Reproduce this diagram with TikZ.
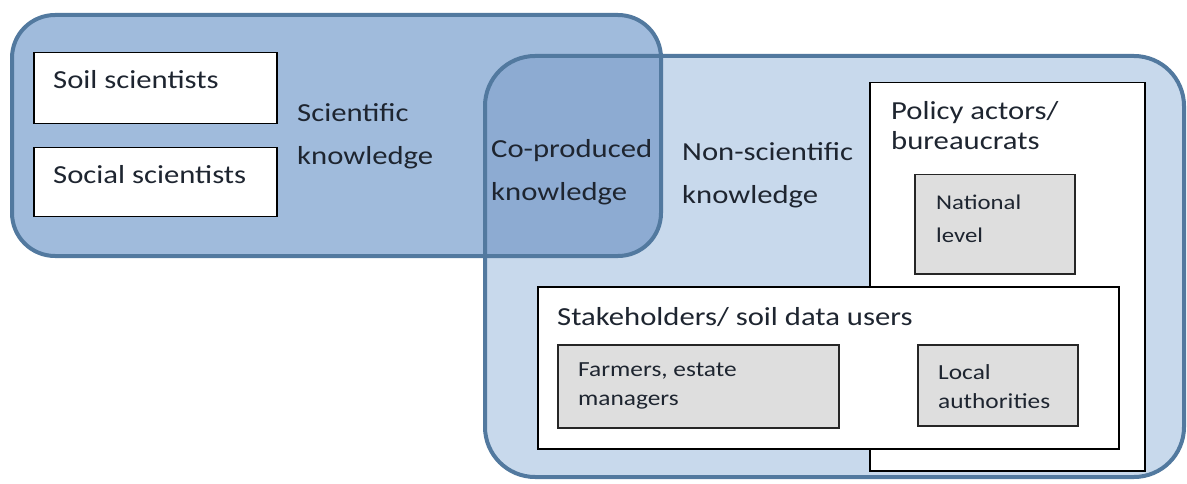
\documentclass[tikz,border=0pt]{standalone}
\usepackage{fontspec}
\setmainfont[FakeStretch=1.18]{Carlito}
\definecolor{leftfill}{HTML}{A0BBDC}
\definecolor{rightfill}{HTML}{C8D9EC}
\definecolor{overlapfill}{HTML}{8DABD2}
\definecolor{bordercol}{HTML}{52799F}
\definecolor{greybox}{HTML}{DEDEDE}
\definecolor{txt}{HTML}{1E2530}
\tikzset{
  bigregion/.style={draw=bordercol, line width=4pt},
  whitebox/.style={draw=black, fill=white, line width=1.5pt, rectangle, inner sep=0pt},
  greyinner/.style={draw=black!85, fill=greybox, line width=1.5pt, rectangle, inner sep=0pt},
  bigtxt/.style={font=\fontsize{26}{43}\selectfont, text=txt, align=left, anchor=west, inner sep=0pt},
  midtxt/.style={font=\fontsize{26}{30}\selectfont, text=txt, align=left, anchor=west, inner sep=0pt},
  smalltxt/.style={font=\fontsize{21.5}{29}\selectfont, text=txt, align=left, anchor=west, inner sep=0pt},
  nattxt/.style={font=\fontsize{21}{33}\selectfont, text=txt, align=left, anchor=west, inner sep=0pt},
}
\begin{document}
\begin{tikzpicture}[x=1pt,y=-1pt]
\useasboundingbox (0,0) rectangle (1187,484);
% region fills
\fill[rightfill, rounded corners=50pt] (485,56) rectangle (1184,477);
\fill[leftfill, rounded corners=43pt] (12,15) rectangle (661,256);
\begin{scope}
  \clip[rounded corners=50pt] (485,56) rectangle (1184,477);
  \fill[overlapfill, rounded corners=43pt] (12,15) rectangle (661,256);
\end{scope}
% region borders
\draw[bigregion, rounded corners=50pt] (485,56) rectangle (1184,477);
\draw[bigregion, rounded corners=43pt] (12,15) rectangle (661,256);

% left boxes
\node[whitebox, anchor=north west, minimum width=243pt, minimum height=71pt] (soil) at (33,52) {};
\node[whitebox, anchor=north west, minimum width=243pt, minimum height=69pt] (social) at (33,147) {};
\node[bigtxt] (soiltxt) at (53,80) {Soil scientists};
\node[bigtxt] (socialtxt) at (53,175) {Social scientists};

% region labels
\node[bigtxt, anchor=north west] (sci) at (297,103) {Scientific\\knowledge};
\node[bigtxt, anchor=north west] (co) at (491,139) {Co-produced\\knowledge};
\node[bigtxt, anchor=north west] (nonsci) at (682,142) {Non-scientific\\knowledge};

% policy box
\node[whitebox, anchor=north west, minimum width=275pt, minimum height=388pt] (policy) at (869,82) {};
\node[midtxt, anchor=north west] (policytxt) at (891,101) {Policy actors/\\bureaucrats};
\node[greyinner, anchor=north west, minimum width=160pt, minimum height=99pt] (national) at (914,174) {};
\node[nattxt, anchor=north west] (nationaltxt) at (936,195) {National\\level};

% stakeholders box
\node[whitebox, anchor=north west, minimum width=581pt, minimum height=162pt] (stake) at (537,286) {};
\node[midtxt] (staketxt) at (557,317) {Stakeholders/ soil data users};
\node[greyinner, anchor=north west, minimum width=281pt, minimum height=83pt] (farmers) at (557,344) {};
\node[smalltxt, anchor=north west] (farmerstxt) at (578,363) {Farmers, estate\\managers};
\node[greyinner, anchor=north west, minimum width=160pt, minimum height=81pt] (local) at (917,344) {};
\node[smalltxt, anchor=north west] (localtxt) at (938,364) {Local\\authorities};
\end{tikzpicture}
\end{document}
